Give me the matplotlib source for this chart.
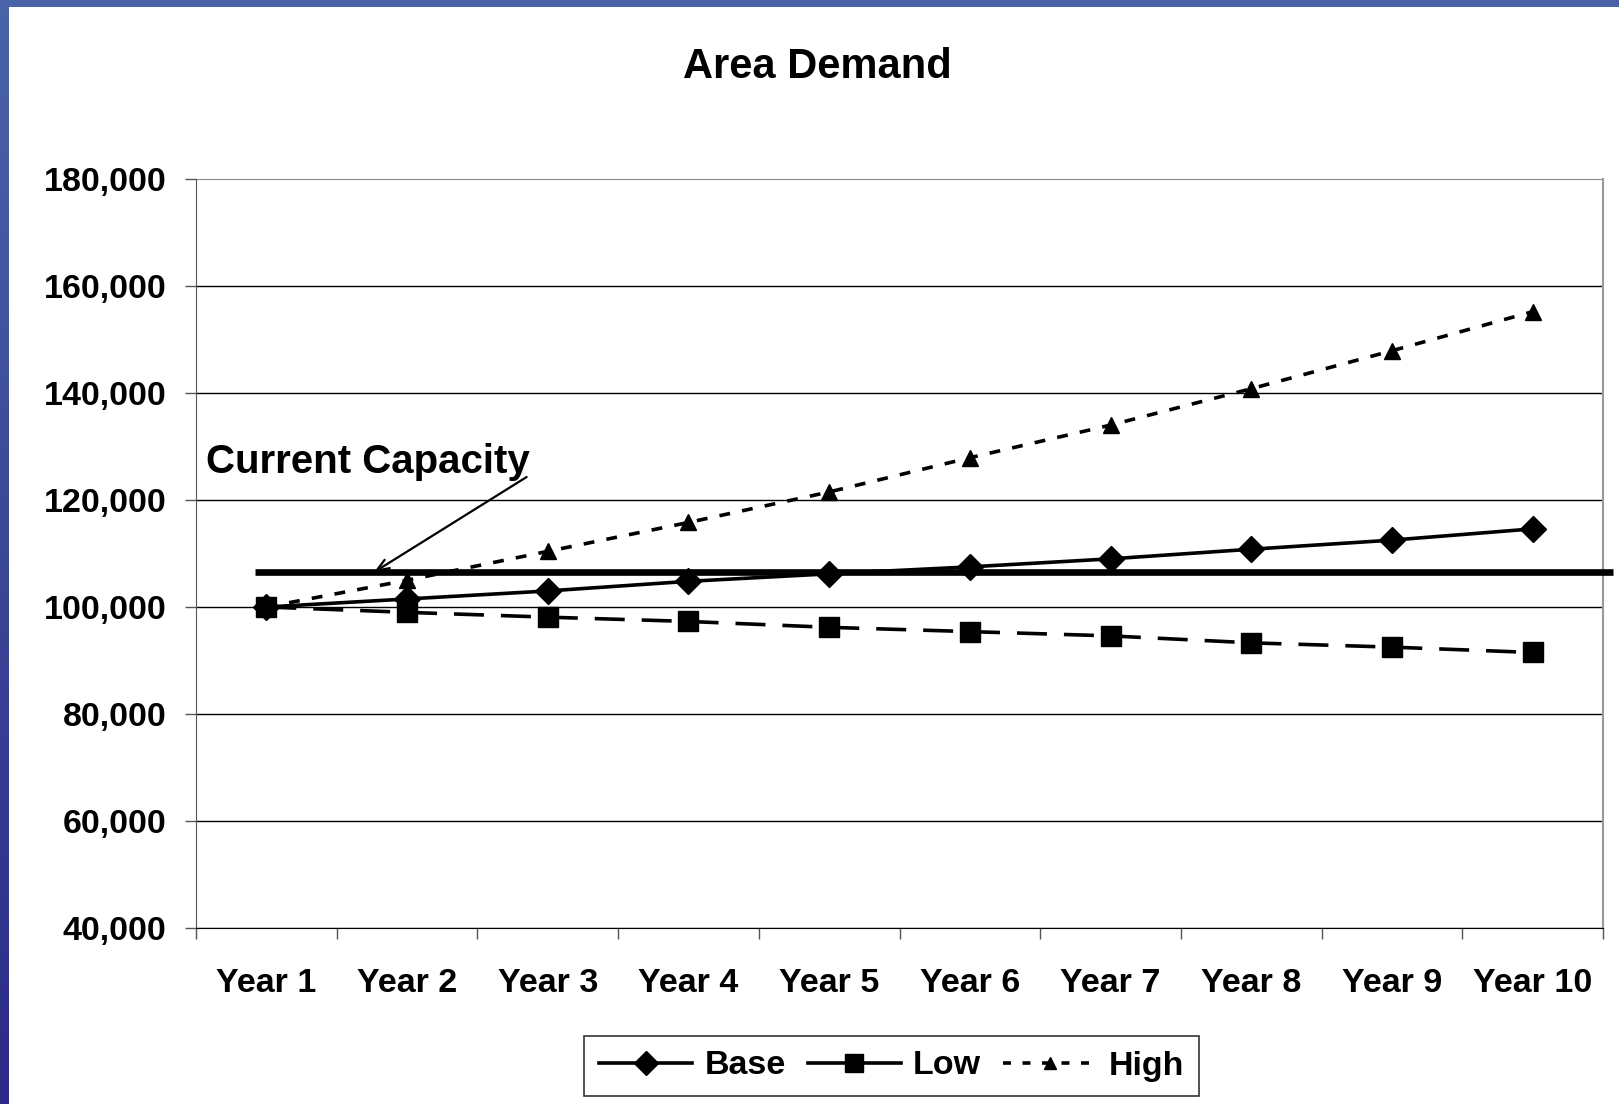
import numpy as np
import matplotlib
matplotlib.use("Agg")
import matplotlib.pyplot as plt
from matplotlib.ticker import FuncFormatter, FixedLocator
from matplotlib.colors import LinearSegmentedColormap
from matplotlib.lines import Line2D

plt.rcParams['font.family'] = ['Liberation Sans', 'DejaVu Sans']
plt.rcParams['font.weight'] = 'bold'

# ---- data ----
years = ["Year 1", "Year 2", "Year 3", "Year 4", "Year 5",
         "Year 6", "Year 7", "Year 8", "Year 9", "Year 10"]
base = [100000, 101500, 103000, 104800, 106200, 107500, 109000, 110800, 112500, 114600]
low = [100000, 99000, 98100, 97300, 96200, 95400, 94600, 93300, 92500, 91500]
high = [100000, 105000, 110400, 115800, 121500, 127900, 134000, 140800, 147900, 155200]
current_capacity = 106500
y_ticks = [40000, 60000, 80000, 100000, 120000, 140000, 160000, 180000]

W, H = 1619, 1104
fig = plt.figure(figsize=(W / 100, H / 100), dpi=100)
fig.patch.set_facecolor("white")

# slide frame: blue gradient strip on the left, solid strip along the top
left_ax = fig.add_axes([0, 0, 8.5 / W, 1])
grad = np.linspace(0, 1, 256).reshape(-1, 1)
frame_cmap = LinearSegmentedColormap.from_list("frame", ["#2c2a88", "#4a64a8"])
left_ax.imshow(grad, aspect="auto", cmap=frame_cmap, origin="lower")
left_ax.axis("off")
top_ax = fig.add_axes([0, 1 - 7 / H, 1, 7 / H])
top_ax.set_facecolor("#4a63a8")
top_ax.set_xticks([]); top_ax.set_yticks([])
for s in top_ax.spines.values():
    s.set_visible(False)

ax = fig.add_axes([196 / W, 1 - 928 / H, (1603 - 196) / W, (928 - 179) / H])
x = np.arange(1, len(years) + 1)

lw = 2.6
ax.plot(x, base, color="black", lw=lw, marker="D", ms=13.5, zorder=4)
ax.plot(x, low, color="black", lw=lw, marker="s", ms=14,
        dashes=(8.3, 4.7), zorder=4)
ax.plot(x, high, color="black", lw=lw, marker="^", ms=11.5,
        dashes=(3.0, 3.4), zorder=4)

# current capacity reference line
ax.hlines(current_capacity, 0.92, 10.57, colors="black", lw=4.8, zorder=5, clip_on=False)
ax.text(0.57, 127100, "Current Capacity", fontsize=29, fontweight="bold",
        va="center", ha="left")
ax.annotate("", xy=(1.765, current_capacity), xytext=(2.85, 124300),
            arrowprops=dict(arrowstyle="->,head_length=0.9,head_width=0.35",
                            lw=1.6, color="black", shrinkA=0, shrinkB=0))

ax.set_xlim(0.5, len(years) + 0.5)
ax.set_ylim(40000, 180000)
ax.set_yticks(y_ticks)
ax.yaxis.set_major_formatter(FuncFormatter(lambda v, p: f"{int(v):,}"))
ax.grid(axis="y", color="black", lw=1.0)
ax.set_axisbelow(True)

# category boundaries carry the tick marks, labels sit at the centres
ax.xaxis.set_major_locator(FixedLocator(np.arange(0.5, len(years) + 1, 1)))
ax.xaxis.set_major_formatter(FuncFormatter(lambda v, p: ""))
ax.xaxis.set_minor_locator(FixedLocator(x))
ax.set_xticklabels(years, minor=True)
ax.tick_params(axis="x", which="major", length=8, width=1, color="#555555")
ax.tick_params(axis="x", which="minor", length=0, pad=29, labelsize=24.5)
ax.tick_params(axis="y", length=8, width=1, color="#555555", pad=13.5, labelsize=24.5)

for lab in ax.get_xticklabels(minor=True) + ax.get_yticklabels():
    lab.set_fontweight("bold")

ax.spines["top"].set_visible(False)
ax.spines["left"].set_color("#555555")
ax.spines["right"].set_color("#999999")
ax.spines["right"].set_linewidth(1.5)
ax.spines["bottom"].set_color("black")
ax.yaxis.get_gridlines()[-1].set_color("#888888")
ax.yaxis.get_gridlines()[-1].set_linewidth(1.5)

fig.text(817 / W, 1 - 67 / H, "Area Demand", fontsize=30, fontweight="bold",
         ha="center", va="center")

# legend keys
handles = [
    Line2D([], [], color="black", lw=lw, marker="D", ms=12),
    Line2D([], [], color="black", lw=lw, marker="s", ms=12.5),
    Line2D([], [], color="black", lw=lw, marker="^", ms=9, dashes=(2.2, 3.2)),
]
leg = fig.legend(handles, ["Base", "Low", "High"], loc="center",
                 bbox_to_anchor=(891.5 / W, 1 - 1066 / H), ncol=3,
                 fontsize=24.5, frameon=True, fancybox=False, edgecolor="black",
                 handlelength=2.75, handletextpad=0.35, columnspacing=0.65,
                 borderpad=0.42)
leg.get_frame().set_linewidth(1.2)
for t in leg.get_texts():
    t.set_fontweight("bold")

fig.savefig("out.png", dpi=100, facecolor="white")
